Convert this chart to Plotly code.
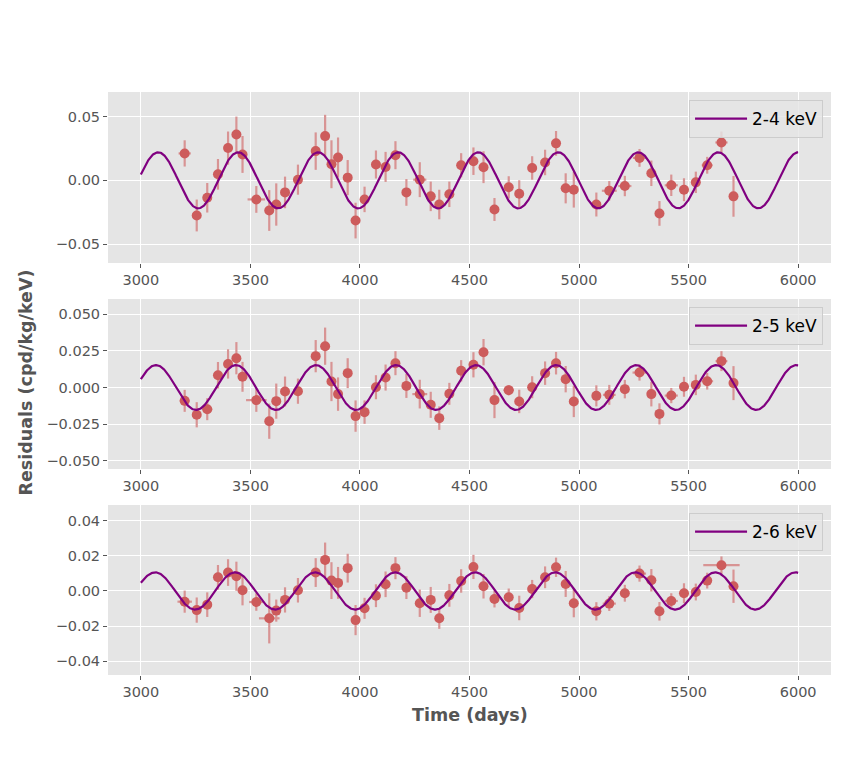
import numpy as np
import plotly.graph_objects as go

# ---------------- data ----------------
days = [3200, 3255, 3303, 3352, 3398, 3436, 3464, 3527, 3586, 3618, 3658, 3717, 3798, 3841, 3870,
        3900, 3944, 3980, 4021, 4073, 4117, 4162, 4212, 4273, 4323, 4362, 4408, 4462, 4518, 4564,
        4614, 4679, 4727, 4786, 4845, 4895, 4939, 4976, 5079, 5138, 5209, 5276, 5330, 5367, 5421,
        5479, 5533, 5585, 5650, 5705]

res_24 = [0.0211, -0.0276, -0.0137, 0.0047, 0.0253, 0.036, 0.0203, -0.015, -0.0237, -0.019,
          -0.0095, 0.0005, 0.0229, 0.0347, 0.0126, 0.0179, 0.0021, -0.0316, -0.015, 0.0124,
          0.0105, 0.0197, -0.0095, 0.0005, -0.0126, -0.019, -0.011, 0.0118, 0.015, 0.0103,
          -0.0229, -0.0055, -0.0105, 0.0097, 0.014, 0.029, -0.0063, -0.0074, -0.019, -0.0082,
          -0.0045, 0.0176, 0.0055, -0.026, -0.0039, -0.0074, -0.0016, 0.0118, 0.0297, -0.0126]
err_24 = [0.0103, 0.0125, 0.0116, 0.012, 0.013, 0.014, 0.0145, 0.0105, 0.016, 0.0166,
          0.0124, 0.0118, 0.0147, 0.0167, 0.0188, 0.0157, 0.0138, 0.014, 0.01, 0.011,
          0.0118, 0.011, 0.0105, 0.0137, 0.0116, 0.0116, 0.010, 0.0095, 0.0108, 0.0125,
          0.009, 0.0087, 0.0105, 0.0092, 0.01, 0.0097, 0.0118, 0.014, 0.0094, 0.0076,
          0.008, 0.007, 0.01, 0.0097, 0.0084, 0.009, 0.0084, 0.0066, 0.0086, 0.016]
xerr_24 = [28, 18, 18, 18, 18, 18, 18, 40, 18, 18, 18, 18, 18, 18, 18, 18, 18, 18, 18, 18,
           18, 18, 18, 30, 18, 18, 18, 18, 18, 18, 18, 18, 18, 18, 18, 18, 18, 18, 18, 34,
           30, 30, 18, 18, 30, 18, 18, 25, 28, 18]

res_25 = [-0.0091, -0.0186, -0.0148, 0.0084, 0.0161, 0.02, 0.0073, -0.0086, -0.023, -0.0093,
          -0.0027, -0.0025, 0.0214, 0.0282, 0.0041, -0.0045, 0.0098, -0.0195, -0.0168, 0.0002,
          0.0068, 0.0166, 0.0011, -0.0045, -0.0118, -0.0209, -0.0043, 0.0114, 0.0155, 0.0241,
          -0.0086, -0.0018, -0.0095, 0.0002, 0.0098, 0.0166, 0.0057, -0.0095, -0.0057, -0.005,
          -0.0011, 0.0102, -0.0045, -0.018, -0.0055, 0.0005, 0.0018, 0.0043, 0.018, 0.003]
err_25 = [0.0075, 0.0086, 0.0075, 0.009, 0.01, 0.011, 0.0102, 0.008, 0.012, 0.012,
          0.0102, 0.0086, 0.011, 0.0127, 0.0134, 0.0114, 0.0102, 0.0107, 0.008, 0.0082,
          0.0089, 0.0082, 0.0082, 0.0098, 0.0089, 0.008, 0.0075, 0.0073, 0.0086, 0.009,
          0.0123, 0.0035, 0.008, 0.0075, 0.008, 0.0077, 0.009, 0.0107, 0.0072, 0.0068,
          0.0063, 0.0055, 0.0084, 0.0072, 0.0052, 0.0068, 0.007, 0.0057, 0.0068, 0.0116]
xerr_25 = [23, 18, 23, 18, 18, 18, 18, 47, 18, 18, 18, 18, 18, 18, 18, 18, 18, 18, 18, 18,
           18, 18, 18, 34, 18, 18, 18, 18, 18, 18, 18, 24, 18, 18, 18, 18, 18, 18, 18, 29,
           18, 32, 18, 18, 30, 18, 18, 27, 27, 18]

res_26 = [-0.0061, -0.0109, -0.0078, 0.0078, 0.0105, 0.0084, 0.0004, -0.0063, -0.0156, -0.0112,
          -0.0051, 0.0004, 0.0105, 0.0177, 0.0059, 0.0046, 0.013, -0.0166, -0.0099, -0.0027,
          0.0038, 0.013, 0.0019, -0.007, -0.0051, -0.0156, -0.0025, 0.0057, 0.0137, 0.0027,
          -0.0046, -0.0036, -0.0097, 0.0011, 0.0078, 0.0135, 0.004, -0.007, -0.0116, -0.0072,
          -0.0013, 0.0099, 0.0061, -0.0116, -0.0057, -0.0013, -0.0006, 0.0059, 0.0147, 0.0027]
err_26 = [0.0063, 0.0072, 0.007, 0.007, 0.0076, 0.0083, 0.0086, 0.005, 0.0143, 0.0063,
          0.0072, 0.007, 0.0082, 0.0099, 0.0105, 0.0091, 0.0082, 0.0086, 0.006, 0.0065,
          0.0073, 0.0063, 0.0065, 0.0078, 0.0074, 0.006, 0.0065, 0.0067, 0.0069, 0.007,
          0.0048, 0.005, 0.007, 0.0052, 0.0062, 0.0055, 0.0074, 0.008, 0.0052, 0.0042,
          0.0048, 0.0046, 0.0064, 0.0053, 0.0044, 0.0057, 0.0048, 0.0045, 0.005, 0.0095]
xerr_26 = [33, 18, 18, 18, 18, 18, 18, 33, 47, 18, 18, 18, 18, 18, 18, 18, 18, 18, 18, 18,
           18, 18, 18, 18, 18, 18, 18, 18, 18, 18, 18, 18, 18, 18, 18, 18, 18, 18, 18, 30,
           18, 30, 18, 18, 30, 18, 18, 18, 83, 18]

# fitted annual modulation: amplitude, time of maximum, period
labels = ["2-4 keV", "2-5 keV", "2-6 keV"]
amplitudes = [0.022, 0.0153, 0.0106]
peak_times = [3079, 3069, 3065]
period = 365.25
model_start, model_end = 3000, 6000

y_ranges = [[-0.0649, 0.0693], [-0.0556, 0.0604], [-0.0479, 0.049]]
y_ticks = [[-0.05, 0.0, 0.05],
           [-0.05, -0.025, 0.0, 0.025, 0.05],
           [-0.04, -0.02, 0.0, 0.02, 0.04]]
y_fmt = ["{:.2f}", "{:.3f}", "{:.2f}"]
x_ticks = [3000, 3500, 4000, 4500, 5000, 5500, 6000]

series = [(res_24, err_24, xerr_24), (res_25, err_25, xerr_25), (res_26, err_26, xerr_26)]

# ---------------- figure ----------------
W, H = 850, 760
L, R, T, B = 108, 19, 92, 85
ph = H - T - B
panel_px = [(92, 263), (299, 469), (505, 675)]
domains = [[(H - B - b) / ph, (H - B - t) / ph] for (t, b) in panel_px]

fig = go.Figure()
font_fam = "DejaVu Sans"
grey = "#555555"

tmod = np.linspace(model_start, model_end, 1200)
for i in range(3):
    ax = "" if i == 0 else str(i + 1)
    y, ey, ex = series[i]
    fig.add_trace(go.Scatter(
        x=days, y=y, mode="markers", xaxis="x" + ax, yaxis="y" + ax, showlegend=False,
        marker=dict(color="#CD5C5C", size=10, line=dict(width=0)),
        error_y=dict(type="data", array=ey, visible=True, color="#D89494", thickness=2.2, width=0),
        error_x=dict(type="data", array=ex, visible=True, color="#D89494", thickness=2.2, width=0),
    ))
    ymod = amplitudes[i] * np.cos(2 * np.pi * (tmod - peak_times[i]) / period)
    fig.add_trace(go.Scatter(
        x=tmod, y=ymod, mode="lines", name=labels[i], xaxis="x" + ax, yaxis="y" + ax,
        line=dict(color="#800080", width=2.2),
        legend="legend" if i == 0 else "legend" + str(i + 1),
    ))

layout = dict(
    width=W, height=H, margin=dict(l=L, r=R, t=T, b=B, pad=0),
    paper_bgcolor="white", plot_bgcolor="#E5E5E5",
    font=dict(family=font_fam, color=grey, size=14.5),
    template="none",
)
for i in range(3):
    ax = "" if i == 0 else str(i + 1)
    layout["xaxis" + ax] = dict(
        domain=[0, 1], anchor="y" + ax, range=[2850, 6150],
        tickvals=x_ticks, ticktext=[str(v) for v in x_ticks],
        showgrid=True, gridcolor="white", gridwidth=1.2, zeroline=False,
        ticks="outside", ticklen=4, tickwidth=1, tickcolor=grey, showline=False,
        tickfont=dict(size=14.5, color=grey, family=font_fam),
    )
    layout["yaxis" + ax] = dict(
        domain=domains[i], anchor="x" + ax, range=y_ranges[i],
        tickvals=y_ticks[i],
        ticktext=[y_fmt[i].format(v).replace("-", "\u2212") for v in y_ticks[i]],
        showgrid=True, gridcolor="white", gridwidth=1.2, zeroline=False,
        ticks="outside", ticklen=4, tickwidth=1, tickcolor=grey, showline=False,
        tickfont=dict(size=14.5, color=grey, family=font_fam),
    )
    leg_top = (H - B - (panel_px[i][0] + 8)) / ph
    layout["legend" if i == 0 else "legend" + str(i + 1)] = dict(
        x=0.989, y=leg_top, xanchor="right", yanchor="top",
        bgcolor="rgba(229,229,229,0.8)", bordercolor="#CCCCCC", borderwidth=1,
        font=dict(size=17, color="black", family=font_fam),
        itemwidth=52, tracegroupgap=0,
    )

fig.update_layout(**layout)

fig.add_annotation(text="<b>Time (days)</b>", xref="paper", yref="paper",
                   x=0.5, y=(H - B - 715) / ph, xanchor="center", yanchor="middle",
                   showarrow=False, font=dict(size=17.5, color=grey, family=font_fam))
fig.add_annotation(text="<b>Residuals (cpd/kg/keV)</b>", xref="paper", yref="paper",
                   x=(25 - L) / (W - L - R), y=(H - B - 382.5) / ph, xanchor="center",
                   yanchor="middle", textangle=-90, showarrow=False,
                   font=dict(size=17.5, color=grey, family=font_fam))

fig.write_html("out.html")
